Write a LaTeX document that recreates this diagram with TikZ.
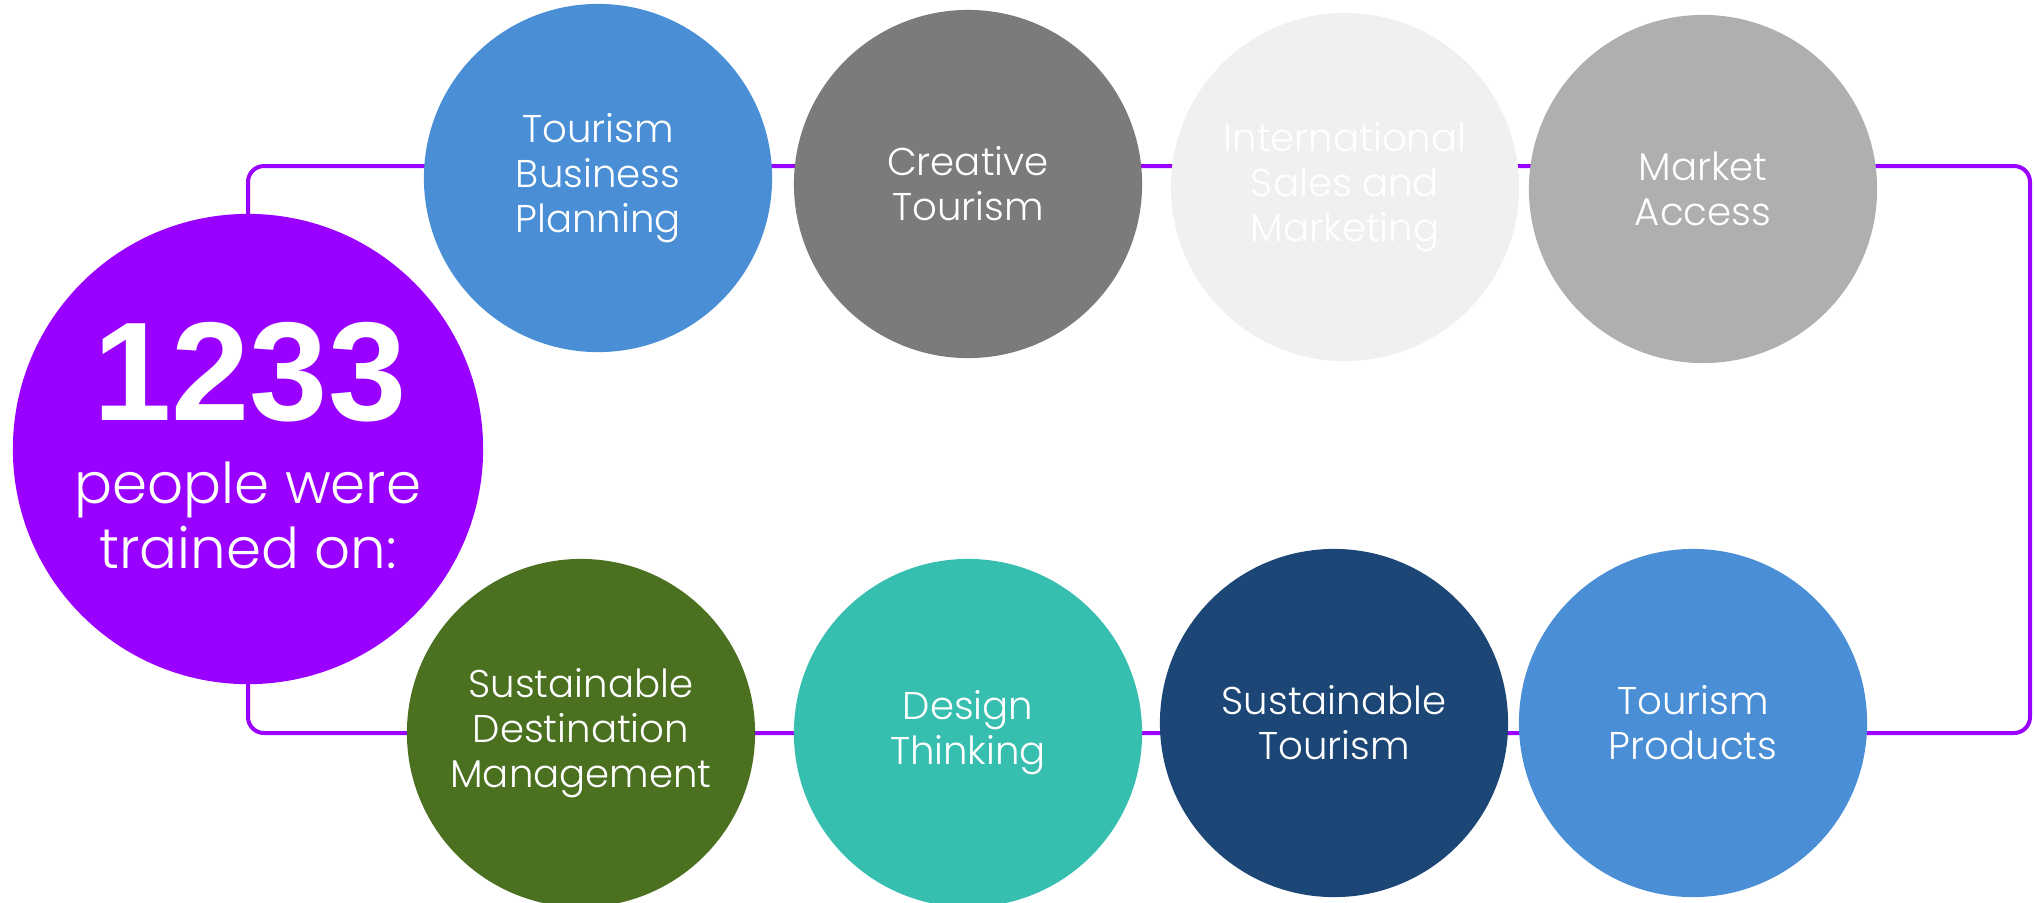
\documentclass[tikz,border=0pt]{standalone}
\usepackage{fontspec}
\setmainfont{Poppins Light}
\newfontfamily\numfont{Liberation Sans}
\usetikzlibrary{backgrounds}

\definecolor{trainviolet}{HTML}{9900FF}
\definecolor{skyblue}{HTML}{4A8FD6}
\definecolor{darkgrey}{HTML}{7B7B7B}
\definecolor{palegrey}{HTML}{F0F0F0}
\definecolor{midgrey}{HTML}{AFAFAF}
\definecolor{mossgreen}{HTML}{4A7020}
\definecolor{teal}{HTML}{36BEAE}
\definecolor{navy}{HTML}{1C4675}

\begin{document}
\begin{tikzpicture}[x=0.01cm,y=-0.01cm,
    topic/.style={circle,minimum size=3.48cm,inner sep=0pt,text=white,
        align=center,font=\fontsize{11}{12.8}\selectfont},
    loopline/.style={draw=trainviolet,line width=0.04cm,rounded corners=0.16cm}]
    \useasboundingbox (0,0) rectangle (2034,902);

    % big counter on the left
    \node[circle,fill=trainviolet,minimum size=4.7cm,inner sep=0pt] (total) at (248,449) {};
    \node[anchor=base,text=white,font=\numfont\bfseries\fontsize{40}{40}\selectfont] (count) at (250,420) {1233};
    \begin{scope}[every node/.style={anchor=base,text=white,font=\fontsize{16}{18}\selectfont}]
        \node (people) at (248,503) {people were};
        \node (trained) at (248,568) {trained on:};
    \end{scope}

    % upper row
    \node[topic,fill=skyblue] (T_1) at (598,178) {Tourism\\Business\\Planning};
    \node[topic,fill=darkgrey] (T_2) at (968,184) {Creative\\Tourism};
    \node[topic,fill=palegrey] (T_3) at (1345,187) {International\\Sales and\\Marketing};
    \node[topic,fill=midgrey] (T_4) at (1703,189) {Market\\Access};

    % lower row
    \node[topic,fill=mossgreen] (B_1) at (581,733) {Sustainable\\Destination\\Management};
    \node[topic,fill=teal] (B_2) at (968,733) {Design\\Thinking};
    \node[topic,fill=navy] (B_3) at (1334,723) {Sustainable\\Tourism};
    \node[topic,fill=skyblue] (B_4) at (1693,723) {Tourism\\Products};

    \coordinate (ne) at (2030,166);
    \coordinate (se) at (2030,733);
    \begin{scope}[on background layer]
        \draw[loopline] (total.center) |- (ne) -- (se) -| (total.center);
    \end{scope}
\end{tikzpicture}
\end{document}
